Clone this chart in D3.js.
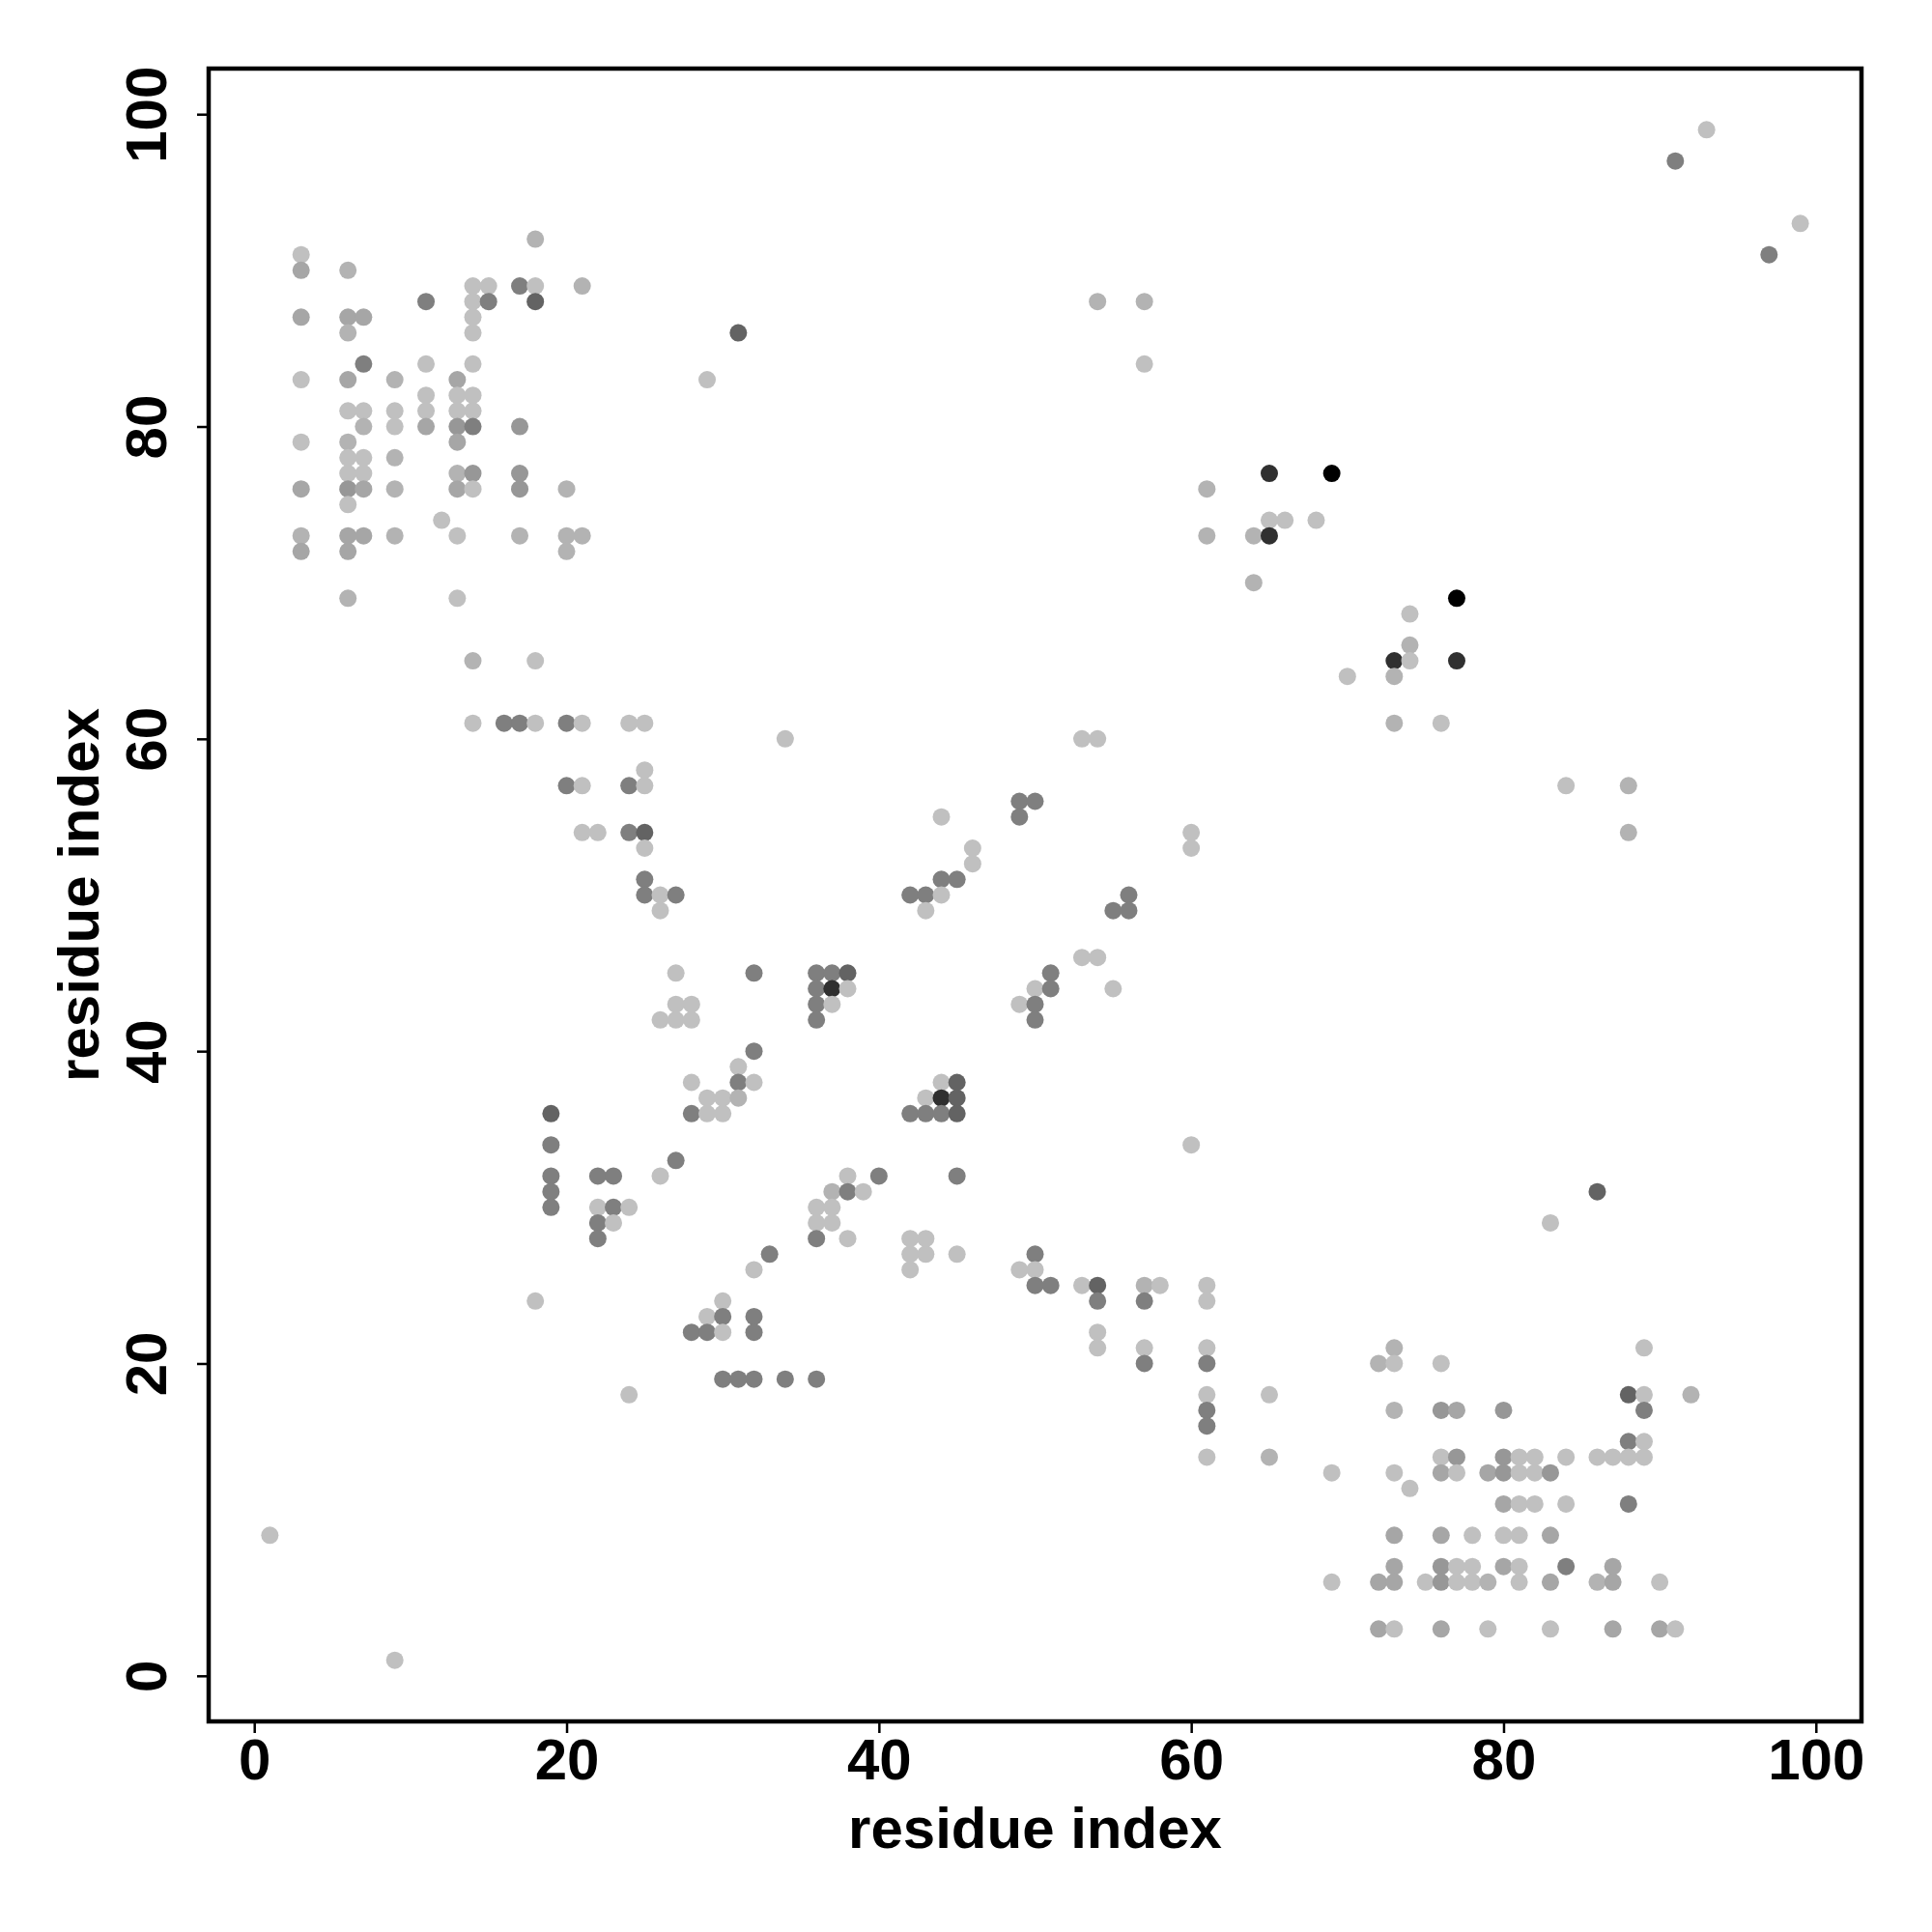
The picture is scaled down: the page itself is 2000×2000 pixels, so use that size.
<!DOCTYPE html>
<html>
<head>
<meta charset="utf-8">
<script src="https://cdn.jsdelivr.net/npm/d3@7"></script>
<style>
  html, body { margin: 0; padding: 0; background: #ffffff; }
  svg { display: block; }
</style>
</head>
<body>
<svg id="chart" width="2000" height="2000"></svg>
<script>
// ---- data: contact pairs (x residue, y residue) and shade level ----
const resX = [
  18, 3, 3, 6, 14, 15, 17, 18, 21, 11, 14, 15, 18, 3, 6, 7, 14, 6, 14, 31,
  7, 11, 14, 3, 6, 9, 13, 29, 11, 13, 14, 6, 7, 9, 11, 13, 14, 7, 9, 11,
  13, 14, 17, 3, 6, 13, 6, 7, 9, 6, 7, 13, 14, 17, 3, 6, 7, 9, 13, 14,
  17, 20, 6, 12, 3, 6, 7, 9, 13, 17, 20, 21, 3, 6, 20, 6, 13,
  54, 57, 57, 65, 69, 61, 65, 66, 68, 61, 64, 65, 64, 74, 74, 73, 74, 77, 70, 73,
  73, 76, 77, 93, 91, 99, 97, 84, 88, 88,
  14, 18, 14, 16, 17, 18, 20, 21, 24, 25, 25, 20, 21, 24, 25, 21, 22, 24, 25, 25,
  25, 25, 26, 27, 26, 27, 32, 27, 28, 26, 27, 28, 32, 31, 28, 31, 32, 29, 30, 31,
  28, 29, 30, 19, 19, 27,
  34, 53, 54, 49, 50, 49, 44, 60, 60, 46, 46, 44, 45, 42, 43, 44, 43, 56, 55, 56,
  53, 54, 51, 50, 51, 55, 49, 50, 50, 36, 37, 38, 36, 37, 38, 36, 37, 36, 44, 45,
  43, 44, 45, 42, 43, 44, 45, 60,
  19, 19, 19, 22, 23, 26, 22, 23, 24, 22, 23, 22, 33, 32, 18, 30, 29, 30, 32, 28,
  29, 30, 32, 30, 31, 32, 24, 1, 9,
  38, 40, 45, 37, 38, 39, 36, 37, 36, 37, 36, 38, 42, 43, 42, 43, 42, 45, 50, 49,
  50, 50, 51, 53, 54, 54, 57, 58, 57, 61, 61, 54, 54, 57, 57, 61, 61, 61, 61, 61,
  65, 61, 65, 34, 36,
  86, 83, 73, 72, 73, 76, 89, 88, 89, 92, 73, 76, 77, 80, 89, 88, 89, 76, 77, 80,
  81, 82, 84, 86, 87, 88, 89, 69, 73, 76, 77, 79, 80, 81, 82, 83, 74, 80, 81, 82,
  84, 88, 73, 76, 78, 80, 81, 83, 73, 76, 77, 78, 80, 81, 84, 87, 69, 72, 73, 75,
  76, 77, 78, 79, 81, 83, 86, 87, 90, 72, 73, 76, 79, 83, 87, 90, 91
];
const resY = [
  92, 91, 90, 90, 89, 89, 89, 89, 89, 88, 88, 88, 88, 87, 87, 87, 87, 86, 86, 86,
  84, 84, 84, 83, 83, 83, 83, 83, 82, 82, 82, 81, 81, 81, 81, 81, 81, 80, 80, 80,
  80, 80, 80, 79, 79, 79, 78, 78, 78, 77, 77, 77, 77, 77, 76, 76, 76, 76, 76, 76,
  76, 76, 75, 74, 73, 73, 73, 73, 73, 73, 73, 73, 72, 72, 72, 69, 69,
  88, 88, 84, 77, 77, 76, 74, 74, 74, 73, 73, 73, 70, 68, 66, 65, 65, 65, 64, 64,
  61, 61, 69, 99, 97, 93, 91, 57, 57, 54,
  65, 65, 61, 61, 61, 61, 61, 61, 61, 61, 58, 57, 57, 57, 57, 54, 54, 54, 54, 53,
  51, 50, 50, 50, 49, 45, 45, 43, 43, 42, 42, 42, 40, 39, 38, 38, 38, 37, 37, 37,
  36, 36, 36, 36, 34, 33,
  60, 60, 60, 56, 56, 55, 55, 54, 53, 53, 52, 51, 51, 50, 50, 50, 49, 50, 49, 49,
  46, 46, 45, 44, 44, 44, 43, 43, 42, 45, 45, 45, 44, 44, 44, 43, 43, 42, 38, 38,
  37, 37, 37, 36, 36, 36, 36, 34,
  32, 31, 30, 32, 32, 32, 30, 30, 30, 29, 29, 28, 27, 26, 24, 24, 23, 23, 23, 22,
  22, 22, 22, 19, 19, 19, 18, 9, 1,
  32, 32, 32, 31, 31, 31, 30, 30, 29, 29, 28, 28, 28, 28, 27, 27, 26, 27, 27, 26,
  26, 25, 25, 25, 25, 24, 25, 25, 24, 25, 24, 22, 21, 21, 20, 21, 20, 18, 17, 16,
  18, 14, 14, 19, 19,
  31, 29, 21, 20, 20, 20, 21, 18, 18, 18, 17, 17, 17, 17, 17, 15, 15, 14, 14, 14,
  14, 14, 14, 14, 14, 14, 14, 13, 13, 13, 13, 13, 13, 13, 13, 13, 12, 11, 11, 11,
  11, 11, 9, 9, 9, 9, 9, 9, 7, 7, 7, 7, 7, 7, 7, 7, 6, 6, 6, 6,
  6, 6, 6, 6, 6, 6, 6, 6, 6, 3, 3, 3, 3, 3, 3, 3, 3
];
const shadeLevel = [
  2, 1, 3, 2, 1, 1, 5, 1, 2, 5, 1, 5, 6, 3, 3, 3, 1, 2, 1, 6,
  5, 1, 1, 1, 3, 2, 3, 1, 1, 1, 1, 1, 1, 1, 1, 1, 1, 2, 1, 3,
  4, 5, 4, 1, 2, 3, 1, 1, 2, 1, 1, 2, 4, 4, 3, 4, 3, 2, 3, 1,
  4, 2, 1, 1, 2, 3, 3, 2, 1, 2, 2, 2, 3, 3, 2, 2, 1,
  2, 2, 1, 7, 8, 2, 1, 1, 1, 2, 2, 7, 2, 1, 2, 7, 1, 7, 1, 2,
  2, 1, 8, 1, 5, 1, 5, 1, 2, 2,
  2, 1, 1, 5, 5, 1, 5, 1, 1, 1, 1, 5, 1, 5, 1, 1, 1, 5, 6, 1,
  5, 5, 1, 5, 1, 1, 5, 1, 1, 1, 1, 1, 5, 1, 1, 5, 1, 1, 1, 2,
  5, 1, 1, 6, 5, 5,
  1, 1, 1, 5, 5, 5, 1, 1, 1, 1, 1, 5, 5, 5, 5, 1, 1, 5, 5, 5,
  1, 1, 5, 1, 5, 1, 1, 5, 5, 5, 5, 6, 5, 7, 1, 5, 1, 5, 1, 6,
  1, 7, 6, 5, 5, 5, 6, 1,
  5, 5, 5, 5, 5, 1, 1, 5, 1, 5, 1, 5, 5, 1, 1, 1, 1, 5, 5, 5,
  5, 1, 5, 5, 5, 5, 1, 1, 1,
  1, 5, 5, 2, 5, 1, 1, 1, 1, 1, 5, 1, 1, 1, 1, 1, 1, 1, 5, 1,
  1, 5, 5, 1, 6, 5, 2, 1, 5, 1, 1, 1, 1, 1, 5, 1, 5, 1, 5, 5,
  1, 1, 2, 5, 5,
  6, 1, 2, 2, 1, 1, 1, 6, 1, 2, 2, 4, 3, 4, 5, 5, 1, 1, 4, 4,
  1, 1, 1, 1, 1, 1, 1, 1, 1, 3, 1, 3, 4, 1, 1, 4, 1, 3, 1, 1,
  1, 5, 3, 3, 1, 1, 1, 3, 3, 4, 1, 1, 3, 1, 5, 3, 1, 3, 3, 1,
  4, 1, 1, 2, 1, 3, 2, 3, 1, 3, 1, 3, 1, 1, 3, 3, 1
];
const shadeColours = ["#ffffff", "#c0c0c0", "#b3b3b3", "#a6a6a6", "#979797",
                      "#7f7f7f", "#636363", "#303030", "#000000"];
const tickValues = [0, 20, 40, 60, 80, 100];
const xTitle = "residue index";
const yTitle = "residue index";

// ---- layout ----
const svg = d3.select("#chart");
const plotL = 216, plotR = 1927, plotT = 71, plotB = 1782;
const fontFam = "'Liberation Sans', Arial, Helvetica, sans-serif";

svg.append("rect").attr("width", 2000).attr("height", 2000).attr("fill", "#fff");

const xScale = d3.scaleLinear().domain([-2.92, 102.92]).range([plotL, plotR]);
const yScale = d3.scaleLinear().domain([-2.92, 102.92]).range([plotB, plotT]);

const points = resX.map((v, i) => ({ x: v, y: resY[i], s: shadeLevel[i] }));

svg.append("g")
  .selectAll("circle")
  .data(points)
  .join("circle")
  .attr("cx", d => xScale(d.x))
  .attr("cy", d => yScale(d.y))
  .attr("r", 9)
  .attr("fill", d => shadeColours[d.s]);

// plot frame
svg.append("rect")
  .attr("x", plotL).attr("y", plotT)
  .attr("width", plotR - plotL).attr("height", plotB - plotT)
  .attr("fill", "none").attr("stroke", "#000").attr("stroke-width", 4.5);

// x axis
const gx = svg.append("g")
  .attr("transform", `translate(0,${plotB})`)
  .call(d3.axisBottom(xScale).tickValues(tickValues).tickSize(12).tickFormat(d3.format("d")));
gx.select(".domain").remove();
gx.selectAll(".tick line").attr("stroke", "#000").attr("stroke-width", 2.5);
gx.selectAll(".tick text")
  .attr("y", 60).attr("dy", 0)
  .attr("fill", "#000")
  .style("font-family", fontFam).style("font-size", "60px").style("font-weight", "bold");

// y axis
const gy = svg.append("g")
  .attr("transform", `translate(${plotL},0)`)
  .call(d3.axisLeft(yScale).tickValues(tickValues).tickSize(12).tickFormat(d3.format("d")));
gy.select(".domain").remove();
gy.selectAll(".tick line").attr("stroke", "#000").attr("stroke-width", 2.5);
gy.selectAll(".tick text")
  .attr("x", 0).attr("y", 0).attr("dy", 0)
  .attr("text-anchor", "middle")
  .attr("transform", "translate(-44,0) rotate(-90)")
  .attr("fill", "#000")
  .style("font-family", fontFam).style("font-size", "60px").style("font-weight", "bold");

// axis titles
svg.append("text")
  .attr("x", (plotL + plotR) / 2).attr("y", 1913)
  .attr("text-anchor", "middle")
  .style("font-family", fontFam).style("font-size", "60px").style("font-weight", "bold")
  .text(xTitle);

svg.append("text")
  .attr("transform", `translate(102,${(plotT + plotB) / 2}) rotate(-90)`)
  .attr("text-anchor", "middle")
  .style("font-family", fontFam).style("font-size", "60px").style("font-weight", "bold")
  .text(yTitle);
</script>
</body>
</html>
